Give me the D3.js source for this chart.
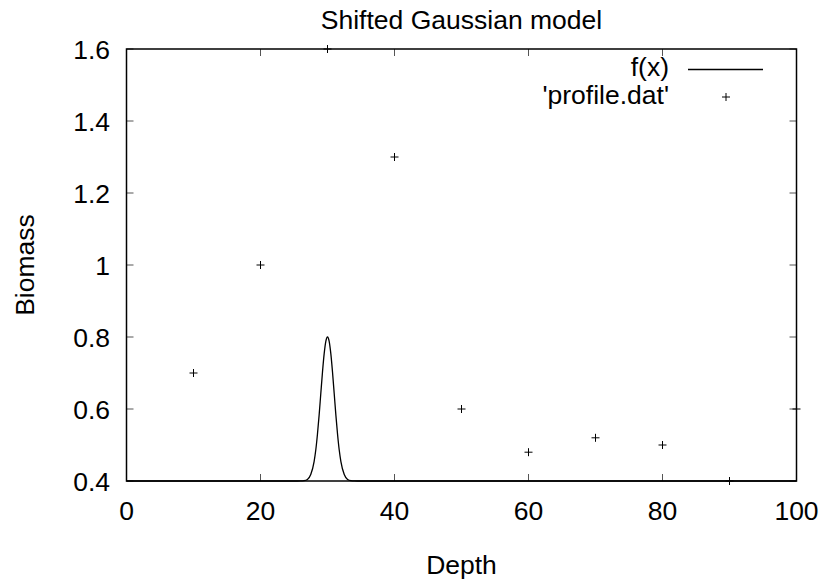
<!DOCTYPE html>
<html><head><meta charset="utf-8">
<script src="https://cdn.jsdelivr.net/npm/d3@7"></script>
<style>body{margin:0;background:#fff}text{font-family:"Liberation Sans",Arial,Helvetica,sans-serif;fill:#000}</style>
</head><body>
<svg id="c" width="822" height="582"></svg>
<script>
const depth = [10,20,30,40,50,60,70,80,90,100];
const biomass = [0.7,1.0,1.6,1.3,0.6,0.48,0.52,0.5,0.4,0.6];
const fxX = [0,25,26,26.5,27,27.5,28,28.25,28.5,28.75,29,29.25,29.5,29.75,30,30.25,30.5,30.75,31,31.25,31.5,31.75,32,32.5,33,33.5,34,35,100];
const fxY = [0.4,0.4,0.4001,0.4009,0.4044,0.418,0.454,0.486,0.530,0.583,0.643,0.702,0.753,0.788,0.8,0.788,0.753,0.702,0.643,0.583,0.530,0.486,0.454,0.418,0.4044,0.4009,0.4001,0.4,0.4];
const xTicks = [0,20,40,60,80,100];
const yTicks = [0.4,0.6,0.8,1.0,1.2,1.4,1.6];
const yTickLabels = ["0.4","0.6","0.8","1","1.2","1.4","1.6"];

const L=126.5,R=796.5,T=49,B=481;
const FS=26.5;
const svg=d3.select("#c");
const x=d3.scaleLinear().domain([0,100]).range([L,R]);
const y=d3.scaleLinear().domain([0.4,1.6]).range([B,T]);

const tk=svg.append("g").attr("stroke","#555").attr("stroke-width",1);
xTicks.forEach(v=>{
  tk.append("line").attr("x1",x(v)).attr("x2",x(v)).attr("y1",B).attr("y2",B-7);
  tk.append("line").attr("x1",x(v)).attr("x2",x(v)).attr("y1",T).attr("y2",T+7);
});
yTicks.forEach(v=>{
  tk.append("line").attr("x1",L).attr("x2",L+7).attr("y1",y(v)).attr("y2",y(v));
  tk.append("line").attr("x1",R).attr("x2",R-7).attr("y1",y(v)).attr("y2",y(v));
});

const line=d3.line().x((d,i)=>x(fxX[i])).y((d,i)=>y(fxY[i])).curve(d3.curveMonotoneX);
svg.append("path").attr("d",line(fxX)).attr("fill","none").attr("stroke","#000").attr("stroke-width",1.3);

svg.append("rect").attr("x",L).attr("y",T).attr("width",R-L).attr("height",B-T)
  .attr("fill","none").attr("stroke","#000").attr("stroke-width",1.5);

const pts=svg.append("g").attr("stroke","#000").attr("stroke-width",1);
depth.forEach((d,i)=>{
  const px=x(d),py=y(biomass[i]);
  pts.append("line").attr("x1",px-4).attr("x2",px+4).attr("y1",py).attr("y2",py);
  pts.append("line").attr("x1",px).attr("x2",px).attr("y1",py-4).attr("y2",py+4);
});

xTicks.forEach(v=>{
  svg.append("text").attr("x",x(v)).attr("y",520).attr("text-anchor","middle").attr("font-size",FS).text(v);
});
yTicks.forEach((v,i)=>{
  svg.append("text").attr("x",110).attr("y",y(v)+9.5).attr("text-anchor","end").attr("font-size",FS).text(yTickLabels[i]);
});

svg.append("text").attr("x",(L+R)/2).attr("y",29).attr("text-anchor","middle").attr("font-size",FS).text("Shifted Gaussian model");
svg.append("text").attr("x",(L+R)/2).attr("y",574).attr("text-anchor","middle").attr("font-size",FS).text("Depth");
svg.append("text").attr("transform",`translate(34,${(T+B)/2}) rotate(-90)`).attr("text-anchor","middle").attr("font-size",FS).text("Biomass");

svg.append("text").attr("x",669).attr("y",76).attr("text-anchor","end").attr("font-size",FS).text("f(x)");
svg.append("line").attr("x1",688).attr("x2",763).attr("y1",69.5).attr("y2",69.5).attr("stroke","#000").attr("stroke-width",1.3);
svg.append("text").attr("x",669).attr("y",104).attr("text-anchor","end").attr("font-size",FS).text("'profile.dat'");
svg.append("line").attr("x1",722).attr("x2",730).attr("y1",97).attr("y2",97).attr("stroke","#000");
svg.append("line").attr("x1",726).attr("x2",726).attr("y1",93).attr("y2",101).attr("stroke","#000");
</script>
</body></html>
